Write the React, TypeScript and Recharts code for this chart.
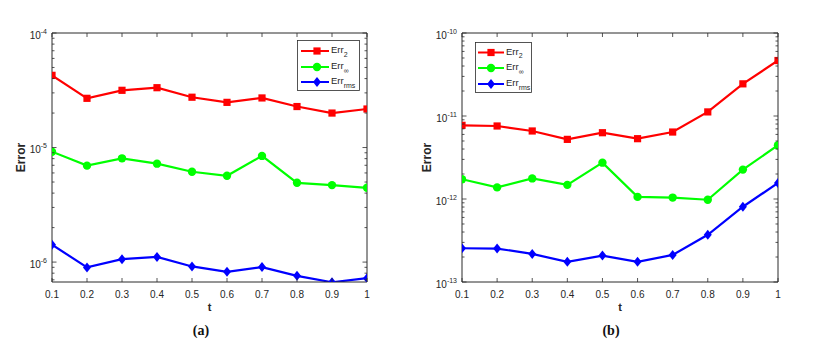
import React from 'react';
import { LineChart, Line, XAxis, YAxis, Legend } from 'recharts';

// ---------- data ----------
const tValues = [0.1, 0.2, 0.3, 0.4, 0.5, 0.6, 0.7, 0.8, 0.9, 1];
const xTickLabels = ['0.1', '0.2', '0.3', '0.4', '0.5', '0.6', '0.7', '0.8', '0.9', '1'];

// panel (a)
const errL2A = [4.27e-5, 2.69e-5, 3.16e-5, 3.33e-5, 2.75e-5, 2.48e-5, 2.71e-5, 2.28e-5, 2.0e-5, 2.17e-5];
const errInfA = [9.2e-6, 6.95e-6, 8.05e-6, 7.23e-6, 6.15e-6, 5.67e-6, 8.45e-6, 4.92e-6, 4.7e-6, 4.45e-6];
const errRmsA = [1.42e-6, 8.98e-7, 1.06e-6, 1.11e-6, 9.16e-7, 8.22e-7, 9.04e-7, 7.58e-7, 6.67e-7, 7.23e-7];
const yDomainA: [number, number] = [6.7e-7, 1e-4];

// panel (b)
const errL2B = [7.72e-12, 7.58e-12, 6.6e-12, 5.23e-12, 6.29e-12, 5.33e-12, 6.41e-12, 1.12e-11, 2.44e-11, 4.66e-11];
const errInfB = [1.73e-12, 1.38e-12, 1.77e-12, 1.48e-12, 2.74e-12, 1.06e-12, 1.04e-12, 9.8e-13, 2.26e-12, 4.44e-12];
const errRmsB = [2.55e-13, 2.53e-13, 2.18e-13, 1.75e-13, 2.08e-13, 1.75e-13, 2.12e-13, 3.71e-13, 8.07e-13, 1.56e-12];
const yDomainB: [number, number] = [1e-13, 1e-10];

const seriesNames = ['Err', 'Err', 'Err'];
const seriesSubs = ['2', '∞', 'rms'];
const axisTitleX = 't';
const axisTitleY = 'Error';
const captions = ['(a)', '(b)'];

// ---------- styles ----------
const FONT = '"Liberation Sans", Arial, Helvetica, sans-serif';
const AXIS = '#2b2b2b';
const TXT = '#262626';
const RED = '#ff0000';
const GREEN = '#00ff00';
const BLUE = '#0000ff';

const buildRows = (a: number[], b: number[], c: number[]) =>
  tValues.map((t, i) => ({ t, l2: a[i], inf: b[i], rms: c[i] }));

const rowsA = buildRows(errL2A, errInfA, errRmsA);
const rowsB = buildRows(errL2B, errInfB, errRmsB);

function logTicks(min: number, max: number): number[] {
  const out: number[] = [];
  const e0 = Math.floor(Math.log10(min));
  const e1 = Math.ceil(Math.log10(max));
  for (let e = e0; e <= e1; e++) {
    for (let m = 1; m <= 9; m++) {
      const v = parseFloat((m * Math.pow(10, e)).toPrecision(6));
      if (v >= min * (1 - 1e-9) && v <= max * (1 + 1e-9)) out.push(v);
    }
  }
  return out;
}

const isMajor = (v: number) => {
  const l = Math.log10(v);
  return Math.abs(l - Math.round(l)) < 1e-6;
};

// ---------- ticks ----------
const LeftTick = (p: any) => {
  const { x, y, payload } = p;
  const v = payload.value;
  const maj = isMajor(v);
  const exp = Math.round(Math.log10(v));
  return (
    <g>
      <line x1={x} x2={x + (maj ? 4.5 : 2.5)} y1={y} y2={y} stroke={AXIS} strokeWidth={0.8} />
      {maj && (
        <text x={x - 5} y={y + 5.5} textAnchor="end" fontSize={10} fill={TXT} fontFamily={FONT}>
          10
          <tspan dy={-5} fontSize={7}>{String(exp)}</tspan>
        </text>
      )}
    </g>
  );
};

const RightTick = (p: any) => {
  const { x, y, payload } = p;
  const maj = isMajor(payload.value);
  return <line x1={x} x2={x - (maj ? 4.5 : 2.5)} y1={y} y2={y} stroke={AXIS} strokeWidth={0.8} />;
};

const BottomTick = (p: any) => {
  const { x, y, payload } = p;
  const idx = tValues.indexOf(payload.value);
  return (
    <g>
      <line x1={x} x2={x} y1={y} y2={y - 4} stroke={AXIS} strokeWidth={0.8} />
      <text x={x} y={y + 15.5} textAnchor="middle" fontSize={10} fill={TXT} fontFamily={FONT}>
        {idx >= 0 ? xTickLabels[idx] : String(payload.value)}
      </text>
    </g>
  );
};

const TopTick = (p: any) => {
  const { x, y } = p;
  return <line x1={x} x2={x} y1={y} y2={y + 4} stroke={AXIS} strokeWidth={0.8} />;
};

// ---------- markers ----------
const SquareDot = (p: any) => {
  if (p.cx == null || p.cy == null) return <g key={`s${p.index}`} />;
  return <rect key={`s${p.index}`} x={p.cx - 3.6} y={p.cy - 3.6} width={7.2} height={7.2} fill={RED} />;
};
const CircleDot = (p: any) => {
  if (p.cx == null || p.cy == null) return <g key={`c${p.index}`} />;
  return <circle key={`c${p.index}`} cx={p.cx} cy={p.cy} r={4.2} fill={GREEN} />;
};
const DiamondDot = (p: any) => {
  if (p.cx == null || p.cy == null) return <g key={`d${p.index}`} />;
  const { cx, cy } = p;
  return (
    <polygon
      key={`d${p.index}`}
      points={`${cx},${cy - 5} ${cx + 4},${cy} ${cx},${cy + 5} ${cx - 4},${cy}`}
      fill={BLUE}
    />
  );
};

// ---------- legend ----------
type LegendGeom = { w: number; h: number; rowsY: number[]; lineX0: number; lineX1: number; markX: number; textX: number };

const LegendBox = ({ g }: { g: LegendGeom }) => {
  const colors = [RED, GREEN, BLUE];
  return (
    <svg width={g.w} height={g.h} style={{ display: 'block' }}>
      <rect x={0.5} y={0.5} width={g.w - 1} height={g.h - 1} fill="#ffffff" stroke={AXIS} strokeWidth={0.8} />
      {g.rowsY.map((ry, i) => (
        <g key={i}>
          <line x1={g.lineX0} x2={g.lineX1} y1={ry} y2={ry} stroke={colors[i]} strokeWidth={2} />
          {i === 0 && <rect x={g.markX - 3.6} y={ry - 3.6} width={7.2} height={7.2} fill={RED} />}
          {i === 1 && <circle cx={g.markX} cy={ry} r={4.2} fill={GREEN} />}
          {i === 2 && (
            <polygon
              points={`${g.markX},${ry - 5} ${g.markX + 4},${ry} ${g.markX},${ry + 5} ${g.markX - 4},${ry}`}
              fill={BLUE}
            />
          )}
          <text x={g.textX} y={ry + 2} fontSize={9.5} fill={TXT} fontFamily={FONT}>
            {seriesNames[i]}
            <tspan dy={3.5} fontSize={7}>{seriesSubs[i]}</tspan>
          </text>
        </g>
      ))}
    </svg>
  );
};

// ---------- panel ----------
type PanelProps = {
  data: any[];
  yDomain: [number, number];
  left: number;
  margin: { top: number; right: number; bottom: number; left: number };
  legendLeft: number;
  legendTop: number;
  legend: LegendGeom;
  yLabelOffset: number; // from plot left edge
  caption: string;
  captionX: number;
};

const Panel = (pp: PanelProps) => {
  const ticks = logTicks(pp.yDomain[0], pp.yDomain[1]);
  const yAxisW = 52;
  const plotLeft = pp.margin.left + yAxisW;
  return (
    <div style={{ position: 'absolute', left: pp.left, top: 0, width: 407, height: 343 }}>
      <LineChart width={407} height={343} data={pp.data} margin={pp.margin}>
        <XAxis
          dataKey="t"
          type="number"
          domain={[0.1, 1]}
          ticks={tValues}
          interval={0}
          allowDataOverflow
          tickSize={0}
          tickMargin={0}
          tickLine={false}
          axisLine={{ stroke: AXIS, strokeWidth: 1 }}
          height={30}
          tick={BottomTick}
          label={{
            content: (lp: any) => {
              const vb = lp.viewBox || { x: plotLeft, y: 282, width: 315, height: 30 };
              return (
                <text
                  x={vb.x + vb.width / 2}
                  y={vb.y + 29}
                  textAnchor="middle"
                  fontSize={11}
                  fontWeight="bold"
                  fill={TXT}
                  fontFamily={FONT}
                >
                  {axisTitleX}
                </text>
              );
            },
          }}
        />
        <XAxis
          xAxisId="top"
          dataKey="t"
          orientation="top"
          type="number"
          domain={[0.1, 1]}
          ticks={tValues}
          interval={0}
          allowDataOverflow
          tickSize={0}
          tickMargin={0}
          tickLine={false}
          axisLine={{ stroke: AXIS, strokeWidth: 1 }}
          height={5}
          tick={TopTick}
        />
        <YAxis
          type="number"
          scale="log"
          domain={pp.yDomain}
          ticks={ticks}
          interval={0}
          allowDataOverflow
          tickSize={0}
          tickMargin={0}
          tickLine={false}
          axisLine={{ stroke: AXIS, strokeWidth: 1 }}
          width={yAxisW}
          tick={LeftTick}
          label={{
            content: (lp: any) => {
              const vb = lp.viewBox || { x: pp.margin.left, y: pp.margin.top + 5, width: yAxisW, height: 249 };
              const cx = vb.x + vb.width + pp.yLabelOffset;
              const cy = vb.y + vb.height / 2;
              return (
                <text
                  x={cx}
                  y={cy}
                  transform={`rotate(-90, ${cx}, ${cy})`}
                  textAnchor="middle"
                  dominantBaseline="central"
                  fontSize={12}
                  fontWeight="bold"
                  fill={TXT}
                  fontFamily={FONT}
                >
                  {axisTitleY}
                </text>
              );
            },
          }}
        />
        <YAxis
          yAxisId="r"
          orientation="right"
          type="number"
          scale="log"
          domain={pp.yDomain}
          ticks={ticks}
          interval={0}
          allowDataOverflow
          tickSize={0}
          tickMargin={0}
          tickLine={false}
          axisLine={{ stroke: AXIS, strokeWidth: 1 }}
          width={10}
          tick={RightTick}
        />
        <Line type="linear" dataKey="l2" stroke={RED} strokeWidth={2.2} dot={SquareDot} activeDot={false} isAnimationActive={false} />
        <Line type="linear" dataKey="inf" stroke={GREEN} strokeWidth={2.2} dot={CircleDot} activeDot={false} isAnimationActive={false} />
        <Line type="linear" dataKey="rms" stroke={BLUE} strokeWidth={2.2} dot={DiamondDot} activeDot={false} isAnimationActive={false} />
        <Legend
          layout="horizontal"
          verticalAlign="middle"
          align="center"
          wrapperStyle={{ left: pp.legendLeft, top: pp.legendTop, width: pp.legend.w, height: pp.legend.h, margin: 0, padding: 0 }}
          content={() => <LegendBox g={pp.legend} />}
        />
      </LineChart>
      <div
        style={{
          position: 'absolute',
          left: pp.captionX - 20,
          width: 40,
          top: 323,
          textAlign: 'center',
          fontFamily: '"Liberation Serif", "Times New Roman", serif',
          fontWeight: 'bold',
          fontSize: 14,
          lineHeight: '16px',
          color: '#111',
        }}
      >
        {pp.caption}
      </div>
    </div>
  );
};

export default function App() {
  return (
    <div style={{ position: 'absolute', left: 0, top: 0, width: 814, height: 343, background: '#ffffff', overflow: 'hidden' }}>
      <Panel
        data={rowsA}
        yDomain={yDomainA}
        left={0}
        margin={{ top: 28, right: 30, bottom: 31, left: 0 }}
        legendLeft={297}
        legendTop={40}
        legend={{ w: 63, h: 51, rowsY: [11, 27, 42], lineX0: 4, lineX1: 32, markX: 20, textX: 34 }}
        yLabelOffset={-31}
        caption={captions[0]}
        captionX={201}
      />
      <Panel
        data={rowsB}
        yDomain={yDomainB}
        left={407}
        margin={{ top: 28, right: 26, bottom: 31, left: 3 }}
        legendLeft={475 - 407}
        legendTop={42}
        legend={{ w: 57, h: 51, rowsY: [10.5, 26, 42], lineX0: 3, lineX1: 29, markX: 16, textX: 31 }}
        yLabelOffset={-35}
        caption={captions[1]}
        captionX={611 - 407}
      />
    </div>
  );
}
